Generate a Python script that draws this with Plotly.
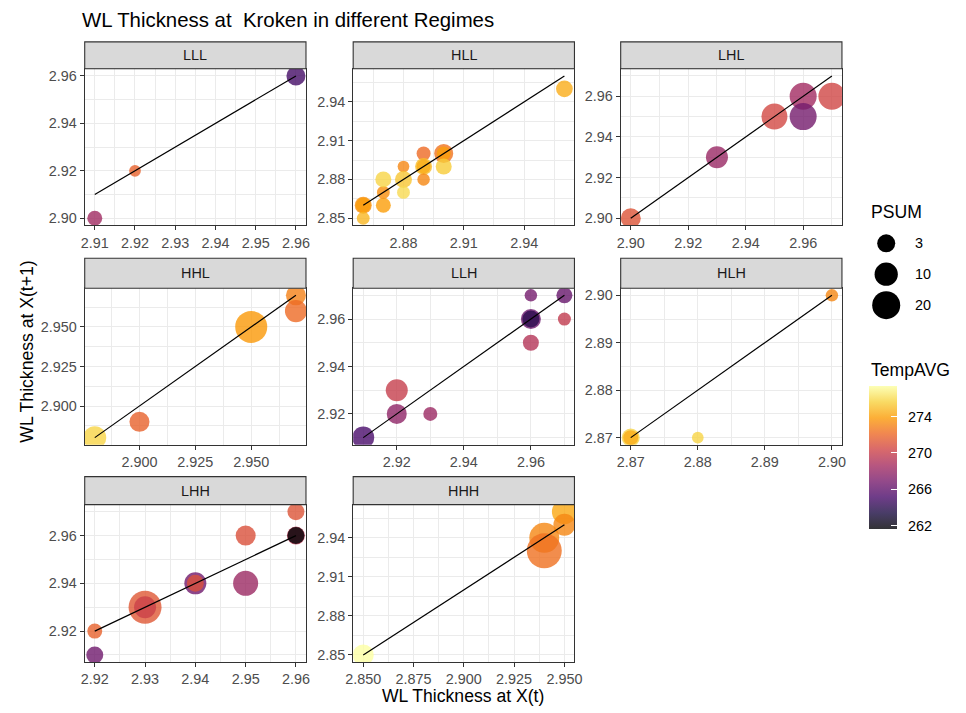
import math
import plotly.graph_objects as go

W, H = 966, 713

# ---- data: one block per regime (x = thickness at t, y = thickness at t+1) ----
regimes = ["LLL", "HLL", "LHL", "HHL", "LLH", "HLH", "LHH", "HHH"]

lll_x = [2.91, 2.92, 2.96]
lll_y = [2.90, 2.92, 2.96]
lll_temp = [268.5, 271.8, 265.0]
lll_psum = [0.8, 0.0, 4.0]

hll_x = [2.96, 2.86, 2.86, 2.86, 2.87, 2.87, 2.87, 2.88, 2.88, 2.88, 2.89, 2.89, 2.89, 2.89, 2.90, 2.90, 2.90]
hll_y = [2.95, 2.86, 2.86, 2.85, 2.86, 2.87, 2.88, 2.89, 2.88, 2.87, 2.90, 2.89, 2.89, 2.88, 2.90, 2.90, 2.89]
hll_temp = [274.5, 273.5, 274.0, 274.8, 274.0, 273.5, 275.8, 273.2, 275.3, 276.0, 272.2, 275.0, 274.5, 273.2, 272.5, 274.0, 275.5]
hll_psum = [1.9, 2.1, 0.8, 0.1, 0.8, 0.1, 1.4, 0.0, 2.1, 0.1, 0.4, 2.1, 0.4, 0.05, 4.0, 0.4, 1.4]

lhl_x = [2.90, 2.93, 2.95, 2.96, 2.96, 2.97]
lhl_y = [2.90, 2.93, 2.95, 2.96, 2.95, 2.96]
lhl_temp = [271.2, 268.2, 270.6, 268.6, 266.8, 270.5]
lhl_psum = [5.2, 8.0, 15.3, 17.6, 17.6, 17.6]

hhl_x = [2.88, 2.90, 2.95, 2.97, 2.97]
hhl_y = [2.88, 2.89, 2.95, 2.97, 2.96]
hhl_temp = [275.8, 271.8, 273.8, 273.0, 272.2]
hhl_psum = [9.6, 5.2, 31.0, 5.2, 8.0]

llh_x = [2.91, 2.92, 2.92, 2.93, 2.96, 2.96, 2.96, 2.96, 2.97, 2.97]
llh_y = [2.91, 2.92, 2.93, 2.92, 2.96, 2.96, 2.97, 2.95, 2.97, 2.96]
llh_temp = [265.2, 267.8, 270.0, 268.3, 266.5, 264.0, 266.8, 269.3, 266.3, 269.8]
llh_psum = [8.0, 5.2, 8.0, 0.4, 5.2, 2.1, 0.05, 1.4, 1.4, 0.13]

hlh_x = [2.87, 2.87, 2.88, 2.90]
hlh_y = [2.87, 2.87, 2.87, 2.90]
hlh_temp = [275.8, 274.5, 275.8, 273.2]
hlh_psum = [3.0, 0.8, 0.0, 0.05]

lhh_x = [2.92, 2.92, 2.93, 2.93, 2.94, 2.94, 2.95, 2.95, 2.96, 2.96, 2.96]
lhh_y = [2.92, 2.91, 2.93, 2.93, 2.94, 2.94, 2.96, 2.94, 2.97, 2.96, 2.96]
lhh_temp = [271.8, 266.6, 271.3, 270.2, 266.6, 271.0, 271.0, 268.3, 271.2, 269.5, 261.7]
lhh_psum = [0.8, 2.1, 34.0, 8.0, 8.0, 2.1, 5.2, 13.3, 2.1, 3.0, 2.1]

hhh_x = [2.85, 2.94, 2.94, 2.95, 2.95]
hhh_y = [2.85, 2.94, 2.93, 2.96, 2.95]
hhh_temp = [277.4, 273.2, 272.4, 274.3, 273.2]
hhh_psum = [6.5, 25.0, 40.7, 13.3, 8.0]

# ---- tick labels per panel ----
lll_xticks = ["2.91", "2.92", "2.93", "2.94", "2.95", "2.96"]
lll_yticks = ["2.90", "2.92", "2.94", "2.96"]
hll_xticks = ["2.88", "2.91", "2.94"]
hll_yticks = ["2.85", "2.88", "2.91", "2.94"]
lhl_xticks = ["2.90", "2.92", "2.94", "2.96"]
lhl_yticks = ["2.90", "2.92", "2.94", "2.96"]
hhl_xticks = ["2.900", "2.925", "2.950"]
hhl_yticks = ["2.900", "2.925", "2.950"]
llh_xticks = ["2.92", "2.94", "2.96"]
llh_yticks = ["2.92", "2.94", "2.96"]
hlh_xticks = ["2.87", "2.88", "2.89", "2.90"]
hlh_yticks = ["2.87", "2.88", "2.89", "2.90"]
lhh_xticks = ["2.92", "2.93", "2.94", "2.95", "2.96"]
lhh_yticks = ["2.92", "2.94", "2.96"]
hhh_xticks = ["2.850", "2.875", "2.900", "2.925", "2.950"]
hhh_yticks = ["2.85", "2.88", "2.91", "2.94"]

psum_breaks = [3, 10, 20]
temp_ticks = [262, 266, 270, 274]

series = [
    (lll_x, lll_y, lll_temp, lll_psum, lll_xticks, lll_yticks),
    (hll_x, hll_y, hll_temp, hll_psum, hll_xticks, hll_yticks),
    (lhl_x, lhl_y, lhl_temp, lhl_psum, lhl_xticks, lhl_yticks),
    (hhl_x, hhl_y, hhl_temp, hhl_psum, hhl_xticks, hhl_yticks),
    (llh_x, llh_y, llh_temp, llh_psum, llh_xticks, llh_yticks),
    (hlh_x, hlh_y, hlh_temp, hlh_psum, hlh_xticks, hlh_yticks),
    (lhh_x, lhh_y, lhh_temp, lhh_psum, lhh_xticks, lhh_yticks),
    (hhh_x, hhh_y, hhh_temp, hhh_psum, hhh_xticks, hhh_yticks),
]

# ---- styling ----
FONT = "Liberation Sans, Arial, sans-serif"
ALPHA = 0.8
inferno = ["#000004", "#1b0c41", "#4a0c6b", "#781c6d", "#a52c60",
           "#cf4446", "#ed6925", "#fb9b06", "#f7d13d", "#fcffa4"]


def rgba(hexc, a):
    h = hexc.lstrip("#")
    r, g, b = int(h[0:2], 16), int(h[2:4], 16), int(h[4:6], 16)
    return f"rgba({r},{g},{b},{a})"


colorscale = [[i / (len(inferno) - 1), rgba(c, ALPHA)] for i, c in enumerate(inferno)]

all_temps = [t for s in series for t in s[2]]
cmin, cmax = min(all_temps), max(all_temps)


def diam(p):
    return 11.7 + 3.65 * math.sqrt(max(p, 0))


# panel geometry in pixels
col_x = [(78, 303), (351, 576), (623, 848)]
row_y = [(41, 68, 225), (258, 288, 445), (477, 505, 663)]  # strip top, plot top, plot bottom

# colour bar geometry in pixels
CB_LEFT, CB_W, CB_BOTTOM, CB_LEN = 876, 28, 529, 143


def px_x(v):
    return v / W


def px_y(v):
    return 1 - v / H


def padded(lo, hi, frac=0.05):
    d = (hi - lo) * frac
    return [lo - d, hi + d]


def minor_vals(major, rng):
    step = major[1] - major[0]
    out = []
    v = major[0] - step / 2
    while v <= rng[1] + 1e-9:
        if v >= rng[0] - 1e-9 and all(abs(v - m) > step / 4 for m in major):
            out.append(round(v, 6))
        v += step / 2
    return out


fig = go.Figure()
shapes = []
annotations = []

for i, (xs, ys, temps, ps, xt, yt) in enumerate(series):
    k = i + 1
    r, c = divmod(i, 3)
    x0, x1 = col_x[c]
    st, pt, pb = row_y[r]
    xa = f"xaxis{k}" if k > 1 else "xaxis"
    ya = f"yaxis{k}" if k > 1 else "yaxis"
    xref = f"x{k}" if k > 1 else "x"
    yref = f"y{k}" if k > 1 else "y"

    fig.add_trace(go.Scatter(
        x=xs, y=ys, mode="markers", xaxis=xref, yaxis=yref,
        marker=dict(size=[diam(p) for p in ps], sizemode="diameter", opacity=1,
                    color=temps, coloraxis="coloraxis", line=dict(width=0)),
        showlegend=False, hoverinfo="skip",
    ))
    # identity reference line over the observed range of X(t)
    lx = sorted(set(xs))
    fig.add_trace(go.Scatter(
        x=lx, y=lx, mode="lines", xaxis=xref, yaxis=yref,
        line=dict(color="black", width=1.2), showlegend=False, hoverinfo="skip",
    ))

    xr = padded(min(xs), max(xs))
    yr = padded(min(min(ys), min(xs)), max(max(ys), max(xs)))
    xtv = [float(s) for s in xt]
    ytv = [float(s) for s in yt]
    common = dict(
        showline=True, mirror=True, linecolor="#333333", linewidth=1.1,
        ticks="outside", ticklen=4, tickwidth=1.1, tickcolor="#333333",
        tickfont=dict(family=FONT, size=14.4, color="#4D4D4D"),
        showgrid=True, gridcolor="#EBEBEB", gridwidth=1.1, zeroline=False,
        tickmode="array", fixedrange=True,
    )
    fig.layout[xa] = dict(
        common, domain=[px_x(x0), px_x(x1)], range=xr, anchor=yref,
        tickvals=xtv, ticktext=xt,
        minor=dict(tickvals=minor_vals(xtv, xr), showgrid=True,
                   gridcolor="#EBEBEB", gridwidth=0.55, ticks=""),
    )
    fig.layout[ya] = dict(
        common, domain=[px_y(pb), px_y(pt)], range=yr, anchor=xref,
        tickvals=ytv, ticktext=yt,
        minor=dict(tickvals=minor_vals(ytv, yr), showgrid=True,
                   gridcolor="#EBEBEB", gridwidth=0.55, ticks=""),
    )
    # facet strip
    shapes.append(dict(type="rect", xref="paper", yref="paper",
                       x0=px_x(x0), x1=px_x(x1), y0=px_y(pt), y1=px_y(st),
                       fillcolor="#D9D9D9", line=dict(color="#333333", width=1.1)))
    annotations.append(dict(text=regimes[i], xref="paper", yref="paper",
                            x=px_x((x0 + x1) / 2), y=px_y((st + pt) / 2),
                            showarrow=False, xanchor="center", yanchor="middle",
                            font=dict(family=FONT, size=14.4, color="#1A1A1A")))

# ---- PSUM size legend drawn on its own hidden axes ----
fig.add_trace(go.Scatter(
    x=[0] * len(psum_breaks), y=list(range(len(psum_breaks))), mode="markers",
    xaxis="x9", yaxis="y9",
    marker=dict(size=[diam(p) for p in psum_breaks], sizemode="diameter", opacity=1,
                color="#000000", line=dict(width=0)),
    showlegend=False, hoverinfo="skip", cliponaxis=False,
))
fig.layout["xaxis9"] = dict(domain=[px_x(878), px_x(908)], range=[-1, 1], visible=False,
                            anchor="y9", fixedrange=True)
fig.layout["yaxis9"] = dict(domain=[px_y(320.5), px_y(227.5)], range=[2.5, -0.5],
                            visible=False, anchor="x9", fixedrange=True)
for j, b in enumerate(psum_breaks):
    annotations.append(dict(text=str(b), xref="paper", yref="y9", x=px_x(920), y=j,
                            showarrow=False, xanchor="left", yanchor="middle",
                            font=dict(family=FONT, size=14.4, color="black")))

# colour bar tick labels placed beside the bar at their scale positions
for v in temp_ticks:
    yy = CB_BOTTOM - (v - cmin) / (cmax - cmin) * CB_LEN
    annotations.append(dict(text=str(v), xref="paper", yref="paper",
                            x=px_x(CB_LEFT + CB_W + 9), y=px_y(yy),
                            showarrow=False, xanchor="left", yanchor="middle",
                            font=dict(family=FONT, size=14.4, color="black")))

# ---- titles ----
annotations += [
    dict(text="WL Thickness at  Kroken in different Regimes", xref="paper", yref="paper",
         x=px_x(73), y=px_y(19), xanchor="left", yanchor="middle", showarrow=False,
         font=dict(family=FONT, size=20.4, color="black")),
    dict(text="WL Thickness at X(t)", xref="paper", yref="paper",
         x=px_x(463), y=px_y(697), xanchor="center", yanchor="middle", showarrow=False,
         font=dict(family=FONT, size=17.6, color="black")),
    dict(text="WL Thickness at X(t+1)", xref="paper", yref="paper", textangle=-90,
         x=px_x(19), y=px_y(352), xanchor="center", yanchor="middle", showarrow=False,
         font=dict(family=FONT, size=17.6, color="black")),
    dict(text="PSUM", xref="paper", yref="paper",
         x=px_x(875), y=px_y(212), xanchor="left", yanchor="middle", showarrow=False,
         font=dict(family=FONT, size=17.6, color="black")),
    dict(text="TempAVG", xref="paper", yref="paper",
         x=px_x(875), y=px_y(370), xanchor="left", yanchor="middle", showarrow=False,
         font=dict(family=FONT, size=17.6, color="black")),
]

fig.update_layout(
    width=W, height=H, margin=dict(l=0, r=0, t=0, b=0),
    paper_bgcolor="white", plot_bgcolor="white",
    font=dict(family=FONT), showlegend=False,
    shapes=shapes, annotations=annotations,
    coloraxis=dict(
        colorscale=colorscale, cmin=cmin, cmax=cmax,
        colorbar=dict(
            x=px_x(CB_LEFT), xanchor="left", y=px_y(CB_BOTTOM), yanchor="bottom",
            len=CB_LEN, lenmode="pixels", thickness=CB_W, thicknessmode="pixels",
            outlinewidth=0, xpad=0, ypad=0,
            tickmode="array", tickvals=temp_ticks, showticklabels=False,
            ticks="inside", ticklen=5.6, tickwidth=1.1, tickcolor="white",
        ),
    ),
)

fig.write_html("out.html")
